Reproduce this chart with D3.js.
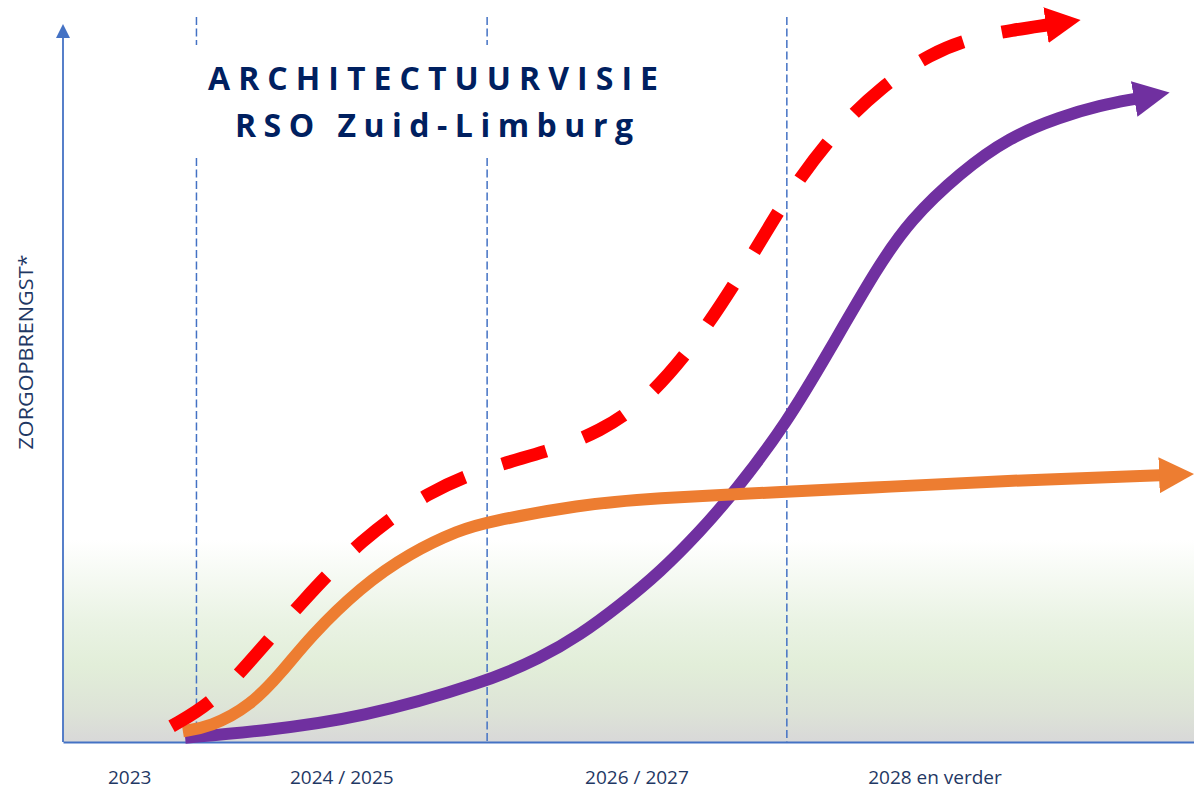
<!DOCTYPE html>
<html><head><meta charset="utf-8">
<script src="https://cdn.jsdelivr.net/npm/d3@7"></script>
<style>html,body{margin:0;padding:0;background:#fff;} svg{display:block;}</style>
</head><body><svg id="chart" width="1194" height="789"></svg>
<script>
// ---- data (abstract units: x 0..100 across the time axis, y 0..100 zorgopbrengst) ----
const periodLabels = ["2023", "2024 / 2025", "2026 / 2027", "2028 en verder"];
const periodBounds = [0, 11.8, 37.5, 64.0, 90.2];
const dividers = [11.8, 37.5, 64.0];
const titleLines = ["ARCHITECTUURVISIE", "RSO Zuid-Limburg"];
const yAxisLabel = "ZORGOPBRENGST*";

const redSeries = [[9.6,2.2],[13.4,5.6],[17.4,12.8],[21.1,19.5],[26.3,28.2],[32.4,35.1],[37.8,38.4],
  [42.6,40.4],[47.5,43.2],[51.9,48.0],[56.6,57.0],[60.7,67.2],[64.5,77.4],[68.4,85.4],[72.2,91.2],
  [76.7,96.1],[80.6,98.3],[84.0,99.3],[87.0,100.0]];
const purpleSeries = [[10.8,0.6],[17.4,1.5],[26.3,3.3],[37.5,8.4],[42.2,11.7],[45.7,14.9],[49.2,19.0],
  [52.8,23.7],[56.3,29.3],[59.4,34.9],[64.0,44.5],[67.8,54.7],[72.0,66.2],[74.9,72.8],[79.3,79.4],
  [83.7,84.4],[88.2,87.2],[91.7,88.8],[94.8,89.7]];
const orangeSeries = [[10.6,1.5],[13.0,2.1],[16.5,4.9],[19.5,10.0],[21.8,14.6],[26.3,21.6],[30.7,26.4],[35.1,29.6],
  [37.5,30.7],[45.7,33.1],[51.9,34.0],[64.0,34.9],[73.1,35.6],[82.8,36.4],[97.0,37.2]];

// ---- layout ----
const W = 1194, H = 789;
const m = {left: 63, right: 0, top: 25, bottom: 47};
const svg = d3.select("#chart");
const x = d3.scaleLinear().domain([0, 100]).range([m.left, W - m.right]);
const y = d3.scaleLinear().domain([0, 100]).range([H - m.bottom, m.top]);
const axisColor = "#4472c4";
const textColor = "#1f3864";
const baseY = y(0);

const defs = svg.append("defs");
const grad = defs.append("linearGradient").attr("id", "bg").attr("x1", 0).attr("y1", 0).attr("x2", 0).attr("y2", 1);
[[0, "#ffffff"], [0.4, "#eaf3e4"], [0.62, "#e2eed9"], [0.85, "#dde3d7"], [1, "#d8d8d8"]]
  .forEach(([o, c]) => grad.append("stop").attr("offset", o).attr("stop-color", c));

function arrowMarker(id, color, len, half) {
  defs.append("marker").attr("id", id).attr("markerUnits", "userSpaceOnUse")
    .attr("viewBox", `0 ${-half} ${len} ${half * 2}`).attr("refX", 1).attr("refY", 0)
    .attr("markerWidth", len).attr("markerHeight", half * 2).attr("orient", "auto")
    .append("path").attr("d", `M0,${-half}L${len},0L0,${half}Z`).attr("fill", color);
}
arrowMarker("a-red", "#ff0000", 35, 18);
arrowMarker("a-purple", "#7030a0", 36, 18);
arrowMarker("a-orange", "#ed7d31", 35, 18);
arrowMarker("a-axis", axisColor, 14, 7);

// gradient band
svg.append("rect").attr("x", x(0)).attr("y", 540).attr("width", x(100) - x(0)).attr("height", baseY - 540)
  .attr("fill", "url(#bg)");

// title
const title = svg.append("g").attr("fill", "#002060").attr("font-family", "'Open Sans', sans-serif")
  .attr("font-weight", 700).attr("font-size", 32).attr("text-anchor", "middle");
title.append("text").attr("x", 433).attr("y", 90).attr("textLength", 450).attr("lengthAdjust", "spacing").text(titleLines[0]);
title.append("text").attr("x", 434).attr("y", 137).attr("textLength", 398).attr("lengthAdjust", "spacing").text(titleLines[1]);
const tb = title.node().getBBox();
const gapTop = tb.y - 11, gapBot = tb.y + tb.height + 12, gapL = tb.x - 20, gapR = tb.x + tb.width + 20;

// dividers
const divTop = 17;
dividers.forEach(d => {
  const px = x(d);
  const segs = (px > gapL && px < gapR) ? [[divTop, gapTop], [gapBot, baseY]] : [[divTop, baseY]];
  segs.forEach(([a, b]) => svg.append("line").attr("x1", px).attr("x2", px).attr("y1", a).attr("y2", b)
    .attr("stroke", axisColor).attr("stroke-width", 1.5).attr("stroke-dasharray", "8,3.5"));
});

// axes
const xAxis = svg.append("g").attr("transform", `translate(0,${baseY})`)
  .call(d3.axisBottom(x).tickValues([]).tickSizeOuter(0));
xAxis.select(".domain").attr("stroke", axisColor).attr("stroke-width", 1.8);
svg.append("line").attr("x1", x(0)).attr("x2", x(0)).attr("y1", baseY).attr("y2", 37)
  .attr("stroke", axisColor).attr("stroke-width", 1.8).attr("marker-end", "url(#a-axis)");

// period labels
periodLabels.forEach((t, i) => {
  svg.append("text").attr("x", x((periodBounds[i] + periodBounds[i + 1]) / 2)).attr("y", 784)
    .attr("text-anchor", "middle").attr("font-family", "'Open Sans', sans-serif").attr("font-size", 19)
    .attr("fill", textColor).text(t);
});

// y label
svg.append("text").attr("transform", `translate(33,352) rotate(-90)`).attr("text-anchor", "middle")
  .attr("font-family", "'Open Sans', sans-serif").attr("font-size", 20).attr("fill", textColor)
  .attr("textLength", 195).attr("lengthAdjust", "spacingAndGlyphs").text(yAxisLabel);

// curves
const line = d3.line().x(d => x(d[0])).y(d => y(d[1])).curve(d3.curveBasis);
svg.append("path").datum(purpleSeries).attr("d", line).attr("fill", "none").attr("stroke", "#7030a0")
  .attr("stroke-width", 12).attr("marker-end", "url(#a-purple)");
svg.append("path").datum(orangeSeries).attr("d", line).attr("fill", "none").attr("stroke", "#ed7d31")
  .attr("stroke-width", 12).attr("marker-end", "url(#a-orange)");
const red = svg.append("path").datum(redSeries).attr("d", line).attr("fill", "none").attr("stroke", "#ff0000")
  .attr("stroke-width", 13).attr("marker-end", "url(#a-red)");
const L = red.node().getTotalLength();
const dash = 46, gap0 = 38;
const n = Math.round((L + gap0) / (dash + gap0));
const gap = (L - n * dash) / (n - 1);
red.attr("stroke-dasharray", `${dash},${gap}`);
</script></body></html>
